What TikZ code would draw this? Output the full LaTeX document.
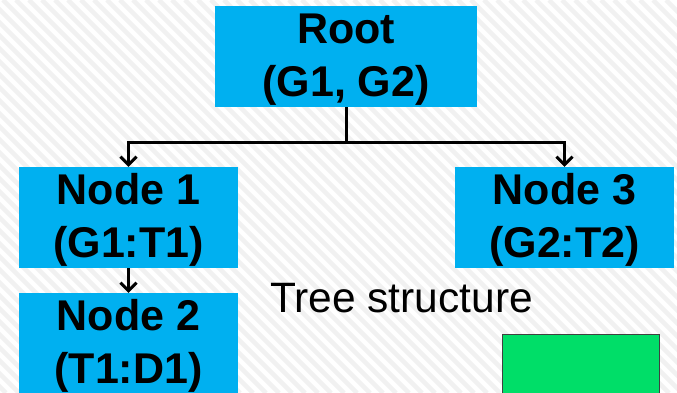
\documentclass[tikz,border=0pt]{standalone}
\usepackage{fontspec}
\setmainfont{Liberation Sans}
\usetikzlibrary{arrows.meta}

\definecolor{boxblue}{HTML}{00B0F0}
\definecolor{boxgreen}{HTML}{00DE68}

% strut for the first and last line of the boxes
\newcommand{\toprule}{\rule{0pt}{38pt}}
\newcommand{\botrule}{\rule[-10pt]{0pt}{10pt}}

\begin{document}
\begin{tikzpicture}[x=1pt, y=1pt,
    treenode/.style={fill=boxblue, inner sep=0pt, minimum height=99pt,
        align=center, font=\fontsize{43}{53}\selectfont\bfseries},
    link/.style={line width=3pt, -{Straight Barb[length=8pt, width=16pt, line width=3pt]}}]
    \useasboundingbox (0,0) rectangle (677,393);
    \clip (0,0) rectangle (677,393);

    % Striped background
    \fill[white] (0,0) rectangle (677,393);
    \foreach \s in {-400,-387,...,690}
        \draw[gray!11, line width=4.5pt] (\s,393) -- (\s+393,0);

    % Tree nodes
    \node[treenode, minimum width=262pt] (root) at (346,336.5) {\toprule Root\\(G1, G2)\botrule};
    \node[treenode, minimum width=219pt] (n1) at (128.5,175.5) {\toprule Node 1\\(G1:T1)\botrule};
    \node[treenode, minimum width=219pt] (n3) at (564.5,175.5) {\toprule Node 3\\(G2:T2)\botrule};
    \node[treenode, minimum width=219pt] (n2) at (128.5,49.5) {\toprule Node 2\\(T1:D1)\botrule};

    % Branches
    \coordinate (split) at (346,250);
    \draw[line width=3pt] (root.south) -- (split);
    \draw[link] (split) -| (n1.north);
    \draw[link] (split) -| (n3.north);
    \draw[link] (n1.south) -- (n2.north);

    % Caption
    \node[anchor=base, font=\fontsize{42.5}{50}\selectfont] (caption) at (401.5,80) {Tree structure};

    % Green box
    \node[draw=black!75, line width=1pt, fill=boxgreen, minimum width=157pt,
        minimum height=99pt, inner sep=0pt] (gbox) at (580.5,8.5) {};
\end{tikzpicture}
\end{document}
